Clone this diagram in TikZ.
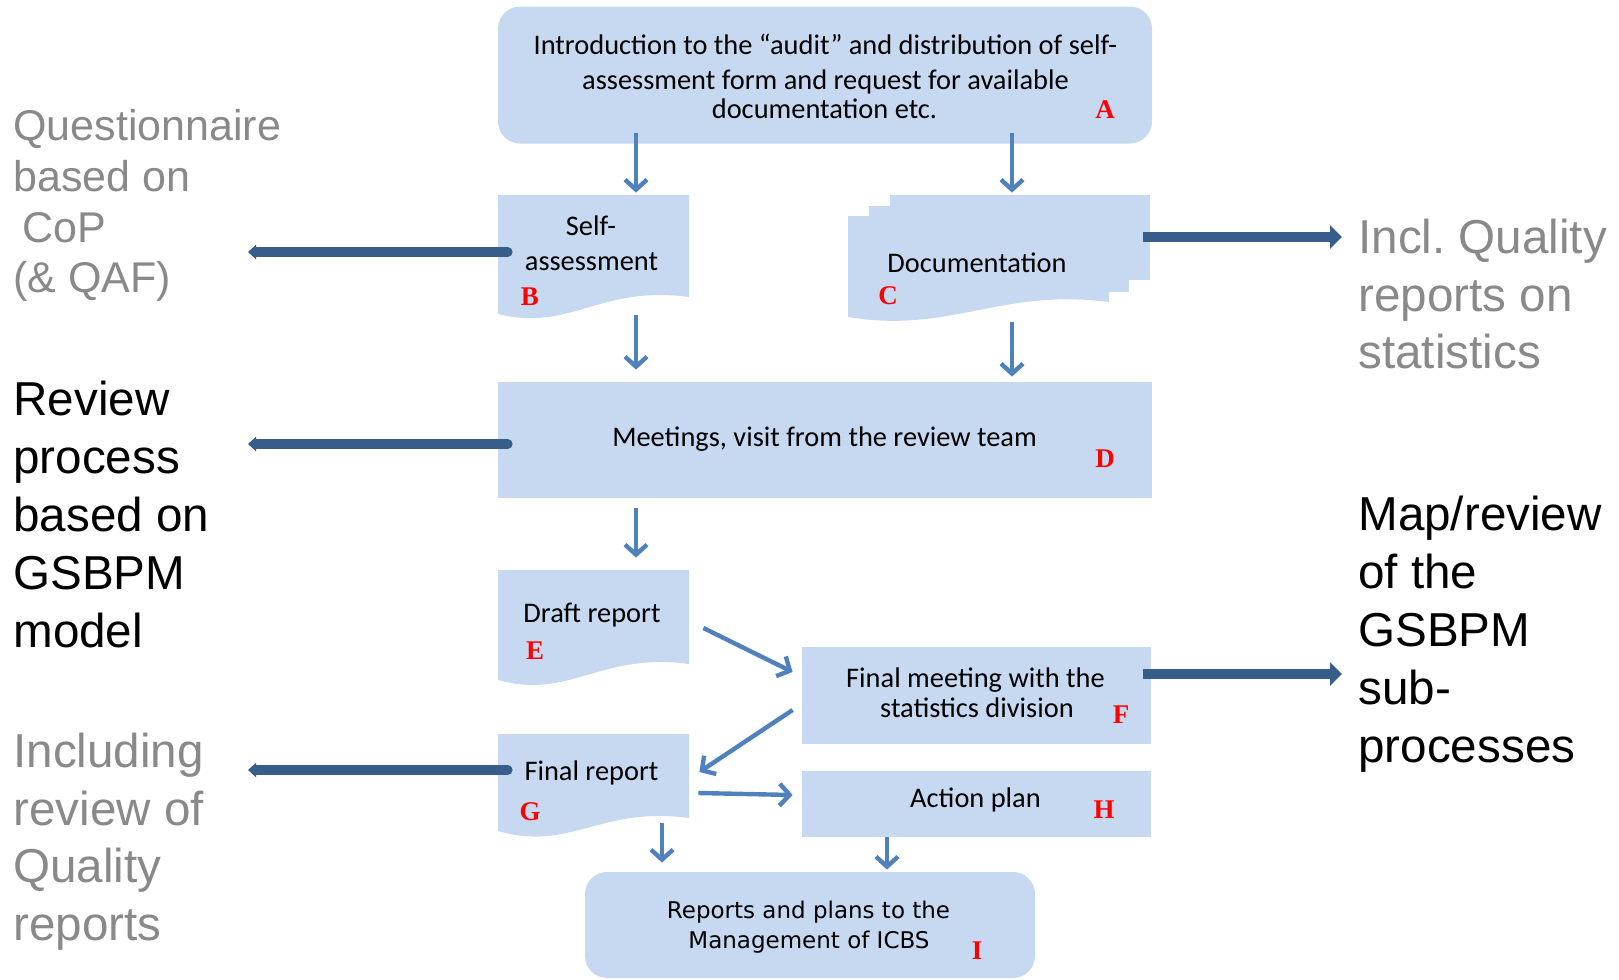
\documentclass[tikz,border=0pt]{standalone}
\usepackage{fontspec}
\setmainfont{Liberation Sans}
\newfontfamily\boxfont{Carlito}
\newfontfamily\ifont{DejaVu Sans}
\newfontfamily\letterfont{Liberation Serif}
\usetikzlibrary{arrows.meta}
\frenchspacing
\definecolor{boxfill}{RGB}{198,217,241}
\definecolor{thinblue}{RGB}{79,129,189}
\definecolor{thickblue}{RGB}{56,93,138}
\definecolor{sidegray}{RGB}{137,137,137}
\definecolor{letterred}{RGB}{255,0,0}
\tikzset{
  box/.style={fill=boxfill, draw=none, inner sep=0pt},
  rbox/.style={box, rounded corners=11pt},
  frame/.style={draw=none, inner sep=0pt},
  btext/.style={anchor=base, inner sep=0pt, font=\boxfont\fontsize{14.2pt}{16pt}\selectfont},
  itext/.style={anchor=base, inner sep=0pt, font=\ifont\fontsize{11.5pt}{13pt}\selectfont},
  lbl/.style={inner sep=0pt, text=letterred, font=\letterfont\bfseries\fontsize{13.5pt}{14pt}\selectfont},
  thinarrow/.style={draw=thinblue, line width=2.2pt, -{Straight Barb[length=5pt,width=11pt]}},
  thickleft/.style={draw=thickblue, line width=5pt, line cap=round, -{Triangle[length=4pt,width=7pt]}},
  thickright/.style={draw=thickblue, line width=5pt, -{Triangle[length=6pt,width=11.5pt]}},
  sidesmall/.style={anchor=base west, inner sep=0pt, text=sidegray, font=\fontsize{21.5pt}{26pt}\selectfont},
  sidegraybig/.style={anchor=base west, inner sep=0pt, text=sidegray, font=\fontsize{23.8pt}{28pt}\selectfont},
  sideblack/.style={anchor=base west, inner sep=0pt, text=black, font=\fontsize{23.8pt}{28pt}\selectfont},
}
\begin{document}
\begin{tikzpicture}[x=0.5pt,y=-0.5pt]
\useasboundingbox (0,0) rectangle (1619,980);

% ---------- boxes ----------
\node[rbox, minimum width=327pt, minimum height=68.5pt] (A) at (825,75) {};

% B: document shape
\fill[boxfill] (498,195) -- (689,195) -- (689,297) .. controls (600,285) and (570,332) .. (498,314) -- cycle;
\node[frame, minimum width=95.5pt, minimum height=60pt] (B) at (593.5,255) {};

% C: multi-document shape
\fill[boxfill] (890,195) rectangle (1150,280);
\fill[boxfill] (869,206) rectangle (1129,292);
\fill[boxfill] (848,216) -- (1109,216) -- (1109,302) .. controls (1000,288) and (950,334) .. (848,317) -- cycle;
\node[frame, minimum width=151pt, minimum height=61pt] (C) at (999,256) {};

\node[box, minimum width=327pt, minimum height=58pt] (D) at (825,440) {};

% E
\fill[boxfill] (498,570) -- (689,570) -- (689,664) .. controls (600,652) and (570,700) .. (498,680) -- cycle;
\node[frame, minimum width=95.5pt, minimum height=57pt] (E) at (593.5,627) {};

\node[box, minimum width=174.5pt, minimum height=48.5pt] (F) at (976.5,695.5) {};

% G
\fill[boxfill] (498,734) -- (689,734) -- (689,818) .. controls (600,806) and (570,852) .. (498,831) -- cycle;
\node[frame, minimum width=95.5pt, minimum height=49pt] (G) at (593.5,783) {};

\node[box, minimum width=174.5pt, minimum height=33pt] (H) at (976.5,804) {};
\node[rbox, minimum width=225pt, minimum height=53pt] (I) at (810,925) {};

% ---------- box texts ----------
\node[btext] (a1) at (825.5,54) {Introduction to the “audit” and distribution of self-};
\node[btext] (a2) at (825.5,89) {assessment form and request for available};
\node[btext] (a3) at (824.5,118) {documentation etc.};
\node[btext] (b1) at (591,235) {Self-};
\node[btext] (b2) at (591.5,270) {assessment};
\node[btext] (c1) at (977,272) {Documentation};
\node[btext] (d1) at (824.5,446) {Meetings, visit from the review team};
\node[btext] (e1) at (592,622) {Draft report};
\node[btext] (f1) at (975.5,687) {Final meeting with the};
\node[btext] (f2) at (977,717) {statistics division};
\node[btext] (g1) at (591.5,780) {Final report};
\node[btext] (h1) at (975.5,807) {Action plan};
\node[itext] (i1) at (808.5,918) {Reports and plans to the};
\node[itext] (i2) at (809,948) {Management of ICBS};

% ---------- red letters ----------
\node[lbl] (la) at (1105,110) {A};
\node[lbl] (lb) at (530,297) {B};
\node[lbl] (lc) at (888,296) {C};
\node[lbl] (ld) at (1105,459) {D};
\node[lbl] (le) at (535,651) {E};
\node[lbl] (lf) at (1121,715) {F};
\node[lbl] (lg) at (530,812) {G};
\node[lbl] (lh) at (1104,810) {H};
\node[lbl] (li) at (977,951) {I};

% ---------- thin arrows ----------
\coordinate (colL) at (636,0);
\coordinate (colR) at (1012,0);
\coordinate (colG) at (662,0);
\coordinate (colH) at (887,0);
\draw[thinarrow, shorten >=1pt] (A.south -| colL) ++(0,-10.5) -- (B.north -| colL);
\draw[thinarrow, shorten >=1pt] (A.south -| colR) ++(0,-10.5) -- (C.north -| colR);
\draw[thinarrow, shorten >=6pt] (B.south -| colL) -- (D.north -| colL);
\draw[thinarrow, shorten >=2.5pt] (C.south -| colR) ++(0,5) -- (D.north -| colR);
\draw[thinarrow, shorten >=6pt] (D.south -| colL) ++(0,10) -- (E.north -| colL);
\draw[thinarrow] ([shift={(14,1)}]E.east) -- ([shift={(-9,-23.5)}]F.west);
\draw[thinarrow] ([shift={(-9,14.5)}]F.west) -- ([shift={(10,-11)}]G.east);
\draw[thinarrow] ([shift={(9,10)}]G.east) -- ([shift={(-9,-9)}]H.west);
\draw[thinarrow, shorten >=4.5pt] (G.south -| colG) ++(0,-9) -- (I.north -| colG);
\draw[thinarrow, shorten >=1pt] (H.south -| colH) -- (I.north -| colH);

% ---------- thick arrows ----------
\coordinate (lt1) at (248,252);
\coordinate (lt2) at (248,444);
\coordinate (lt3) at (248,770);
\coordinate (rt1) at (1342,237);
\coordinate (rt2) at (1342,674);
\draw[thickleft] ([shift={(10,-3)}]B.west) -- (lt1);
\draw[thickleft] ([shift={(10,4)}]D.west) -- (lt2);
\draw[thickleft] ([shift={(10,-13)}]G.west) -- (lt3);
\draw[thickright] ([shift={(-7,-19)}]C.east) -- (rt1);
\draw[thickright] ([shift={(-8,-21.5)}]F.east) -- (rt2);

% ---------- side texts ----------
\node[sidesmall] (q1) at (13,140) {Questionnaire};
\node[sidesmall] (q2) at (13,191) {based on};
\node[sidesmall] (q3) at (22,242) {CoP};
\node[sidesmall] (q4) at (13,292) {(\& QAF)};

\node[sideblack] (r1) at (13,415) {Review};
\node[sideblack] (r2) at (13,473) {process};
\node[sideblack] (r3) at (13,531) {based on};
\node[sideblack] (r4) at (13,589) {GSBPM};
\node[sideblack] (r5) at (13,647) {model};

\node[sidegraybig] (n1) at (13,767) {Including};
\node[sidegraybig] (n2) at (13,825) {review of};
\node[sidegraybig] (n3) at (13,882) {Quality};
\node[sidegraybig] (n4) at (13,940) {reports};

\node[sidegraybig] (s1) at (1358,253) {Incl.\ Quality};
\node[sidegraybig] (s2) at (1358,311) {reports on};
\node[sidegraybig] (s3) at (1358,368) {statistics};

\node[sideblack] (m1) at (1358,530) {Map/review};
\node[sideblack] (m2) at (1358,588) {of the};
\node[sideblack] (m3) at (1358,646) {GSBPM};
\node[sideblack] (m4) at (1358,704) {sub-};
\node[sideblack] (m5) at (1358,762) {processes};
\end{tikzpicture}
\end{document}
